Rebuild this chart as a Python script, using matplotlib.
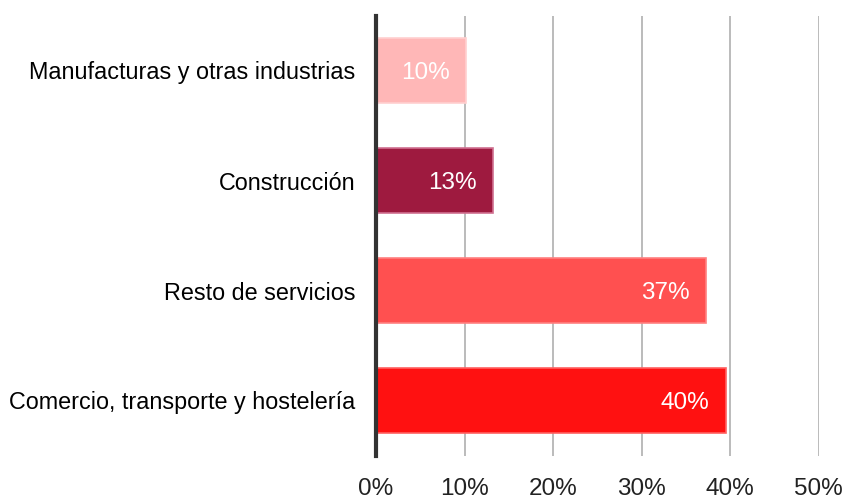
import matplotlib.pyplot as plt

# sector shares (%), top to bottom
sectores = ["Manufacturas y otras industrias", "Construcción",
            "Resto de servicios", "Comercio, transporte y hostelería"]
valores = [10.2, 13.2, 37.3, 39.5]
colores = ["#FFB7B7", "#9E1A3F", "#FF5050", "#FF1111"]
bordes = ["#FFD0D0", "#D07090", "#FF8080", "#FF6060"]
ticks = [0, 10, 20, 30, 40, 50]

plt.rcParams["font.family"] = ["Liberation Sans", "DejaVu Sans"]

fig = plt.figure(figsize=(8.45, 5), dpi=100)
ax = fig.add_axes([0.445, 0.089, 0.524, 0.88])

y = list(range(len(sectores)))
ax.barh(y, valores, height=0.59, color=colores, edgecolor=bordes,
        linewidth=1.2, zorder=3)

for yi, v in zip(y, valores):
    ax.annotate(f"{v:.0f}%", (v, yi), xytext=(-12, -2), textcoords="offset points",
                ha="right", va="center", color="white", fontsize=17.5, zorder=4)

ax.set_xlim(0, 50)
ax.set_ylim(len(sectores) - 0.5, -0.5)
ax.set_xticks(ticks)
ax.set_xticklabels([f"{t}%" for t in ticks], fontsize=17.5, color="#222222")
ax.set_yticks(y)
ax.set_yticklabels(sectores, fontsize=16.8, color="black")
ax.tick_params(axis="both", length=0)
ax.tick_params(axis="x", pad=16)
ax.tick_params(axis="y", pad=15)

ax.grid(axis="x", color="#BBBBBB", linewidth=1.4, zorder=0)
for s in ["top", "right", "bottom"]:
    ax.spines[s].set_visible(False)
ax.spines["left"].set_color("#333333")
ax.spines["left"].set_linewidth(3)
ax.spines["left"].set_zorder(5)

plt.savefig("out.png", dpi=100)
